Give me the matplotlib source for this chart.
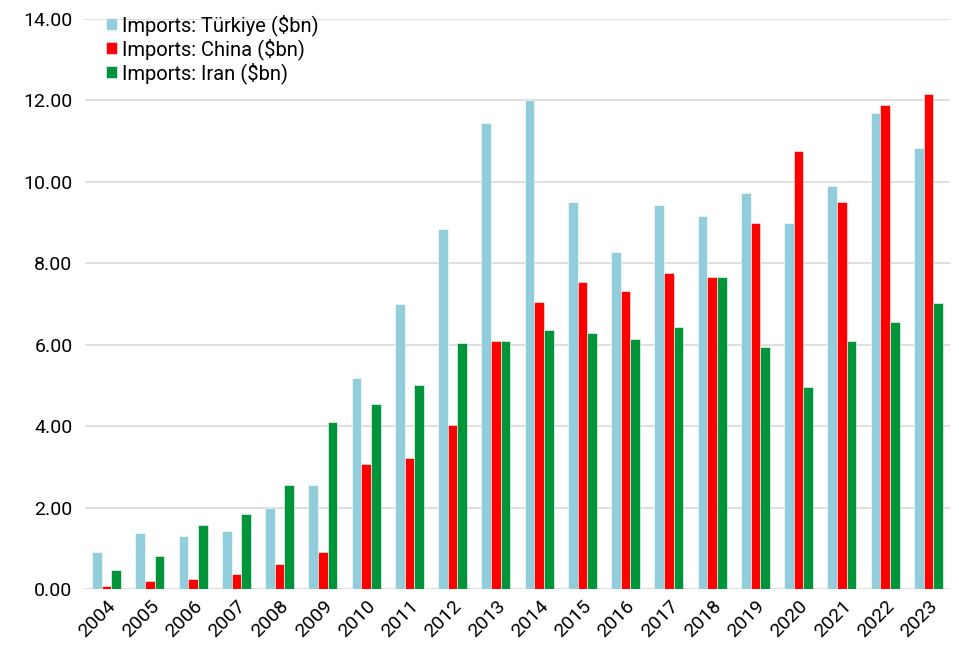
import numpy as np
import matplotlib.pyplot as plt

plt.rcParams['font.family'] = ['Roboto', 'DejaVu Sans']

years = [str(y) for y in range(2004, 2024)]
turkiye = [0.90, 1.38, 1.30, 1.43, 1.98, 2.55, 5.18, 7.00, 8.85, 11.45,
           12.00, 9.50, 8.27, 9.43, 9.17, 9.73, 9.00, 9.89, 11.68, 10.83]
china = [0.07, 0.19, 0.24, 0.37, 0.62, 0.92, 3.07, 3.22, 4.02, 6.08,
         7.05, 7.55, 7.33, 7.77, 7.67, 9.00, 10.76, 9.50, 11.89, 12.15]
iran = [0.47, 0.80, 1.58, 1.84, 2.55, 4.10, 4.54, 5.02, 6.05, 6.10,
        6.35, 6.28, 6.15, 6.43, 7.67, 5.95, 4.97, 6.10, 6.55, 7.03]

labels = ['Imports: Türkiye ($bn)', 'Imports: China ($bn)', 'Imports: Iran ($bn)']
colors = ['#92CDDC', '#FF0000', '#00953A']

fig = plt.figure(figsize=(9.59, 6.47), dpi=100)
ax = fig.add_axes([85 / 959, 1 - 589 / 647, 865 / 959, 570 / 647])

x = np.arange(len(years))
w = 0.225
for i, (vals, lab, col) in enumerate(zip([turkiye, china, iran], labels, colors)):
    ax.bar(x + (i - 1) * w, vals, width=w, color=col, label=lab,
           edgecolor='white', linewidth=0.4, zorder=3)

ax.set_ylim(0, 14)
ax.set_yticks(np.arange(0, 14.1, 2))
ax.set_yticklabels([f'{v:.2f}' for v in np.arange(0, 14.1, 2)], fontsize=14)
ax.set_xlim(-0.5, len(years) - 0.5)
ax.set_xticks(x)
ax.set_xticklabels(years, rotation=45, ha='right', rotation_mode='anchor', fontsize=14)
ax.tick_params(length=0, pad=9)
ax.tick_params(axis='x', pad=6)

ax.grid(axis='y', color='#D9D9D9', linewidth=1.2, zorder=0)
for s in ax.spines.values():
    s.set_visible(False)

ax.legend(loc='upper left', bbox_to_anchor=(0.01, 1.03), fontsize=14.5, frameon=False,
          handlelength=0.55, handleheight=0.55, handletextpad=0.25, labelspacing=0.12,
          borderaxespad=0.2)

fig.savefig('out.png', dpi=100)
